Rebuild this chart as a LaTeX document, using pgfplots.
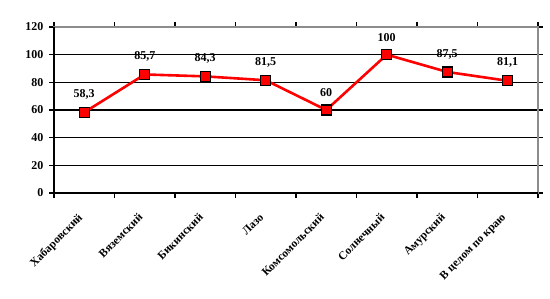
\documentclass[border=0pt]{standalone}
\usepackage{pgfplots}
\pgfplotsset{compat=1.18}
\usepackage{fontspec}
\setmainfont{Liberation Serif}
\begin{document}
\begin{tikzpicture}[x=1pt,y=1pt]
\path[use as bounding box] (0,0) rectangle (550,298);
\begin{axis}[
  at={(84.25pt,105pt)}, anchor=origin,
  scale only axis, width=484pt, height=166pt,
  xmin=-0.5, xmax=7.5, ymin=0, ymax=120,
  ytick={0,20,...,120},
  xtick={0,...,7},
  xticklabels={Хабаровский,Вяземский,Бикинский,Лазо,Комсомольский,Солнечный,Амурский,В целом по краю},
  minor xtick={-0.5,0.5,...,7.5},
  major x tick style={draw=none},
  minor x tick style={black, line width=1.3pt},
  y tick style={black, line width=1.3pt},
  tick align=outside,
  major tick length=5pt, minor tick length=5pt,
  ymajorgrids, grid style={black, line width=1.2pt},
  axis line style={gray!90, line width=1.6pt},
  /pgf/number format/assume math mode=true,
  yticklabel style={font=\bfseries\fontsize{12}{12}\selectfont, xshift=-2pt},
  xticklabel style={xshift=-7pt, yshift=-13pt, font=\bfseries\fontsize{11.5}{12}\selectfont, rotate=45, anchor=north east, inner sep=1pt},
  point meta=explicit symbolic,
  nodes near coords,
  nodes near coords style={text=black, font=\bfseries\fontsize{12}{12}\selectfont, anchor=south, yshift=9pt},
  clip=false,
]
\addplot[red, line width=2.6pt, mark=square*, mark size=5pt,
  mark options={fill=red, draw=black, line width=1.3pt, solid}]
  coordinates {(0,58.3) [58,3] (1,85.7) [85,7] (2,84.3) [84,3] (3,81.5) [81,5]
               (4,60) [60] (5,100) [100] (6,87.5) [87,5] (7,81.1) [81,1]};
\draw[black, line width=1.6pt] (rel axis cs:0,1) -- (rel axis cs:0,0) -- (rel axis cs:1,0);
\end{axis}
\end{tikzpicture}
\end{document}
